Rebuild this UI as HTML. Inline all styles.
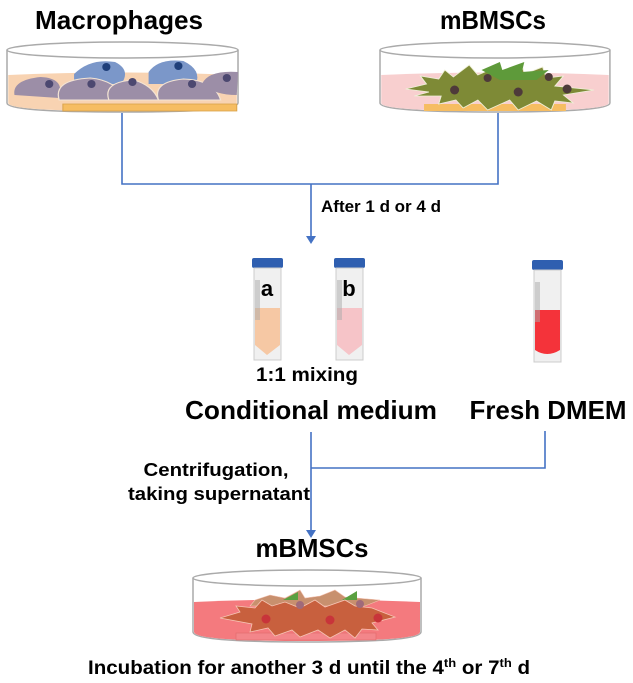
<!DOCTYPE html>
<html><head><meta charset="utf-8"><style>
html,body{margin:0;padding:0;background:#fff;}
svg{display:block;font-family:"Liberation Sans",Arial,sans-serif;font-weight:bold;}
</style></head><body>
<svg width="633" height="683" viewBox="0 0 633 683" xmlns="http://www.w3.org/2000/svg">
<!-- titles -->
<text x="119" y="29" font-size="26" text-anchor="middle" textLength="168" lengthAdjust="spacingAndGlyphs">Macrophages</text>
<text x="493" y="29" font-size="26" text-anchor="middle" textLength="106" lengthAdjust="spacingAndGlyphs">mBMSCs</text>

<!-- dish 1 -->
<g transform="translate(7,0) scale(1.242,1) translate(-8,0)">
<path d="M8,50 L8,103 Q8,112 100,112 Q194,112 194,103 L194,50" fill="#fff" stroke="#aaa" stroke-width="1.5" vector-effect="non-scaling-stroke"/>
<path d="M9,75 Q100,70 193,75 L193,103 Q193,111 100,111 Q9,111 9,103 Z" fill="#f8d3b2"/>
<path d="M62,74 Q75,58 95,62 Q108,70 100,84 L62,84 Z" fill="#7b97c9"/>
<path d="M122,72 Q130,58 150,61 Q165,70 160,84 L122,84 Z" fill="#7b97c9"/>
<path d="M14,95 Q12,80 35,77 Q55,78 50,98 Z" fill="#9c8ea7"/>
<path d="M50,100 Q45,80 75,78 Q95,80 105,100 Z" fill="#9c8ea7" stroke="#f3e4d4"/>
<path d="M90,100 Q85,82 110,80 Q125,85 130,100 Z" fill="#9c8ea7" stroke="#f3e4d4"/>
<path d="M130,100 Q125,82 150,79 Q175,80 180,100 Z" fill="#9c8ea7" stroke="#f3e4d4"/>
<path d="M165,84 Q170,70 194,72 L193,95 Q175,95 165,84 Z" fill="#9c8ea7"/>
<g fill="#4c4870"><ellipse cx="42" cy="84" rx="3.3" ry="4"/><ellipse cx="76" cy="84" rx="3.3" ry="4"/><ellipse cx="109" cy="82" rx="3.3" ry="4"/><ellipse cx="157" cy="84" rx="3.3" ry="4"/><ellipse cx="185" cy="78" rx="3.3" ry="4"/></g>
<g fill="#1f3f7a"><ellipse cx="88" cy="67" rx="3.3" ry="4"/><ellipse cx="146" cy="66" rx="3.3" ry="4"/></g>
<rect x="53" y="104" width="140" height="7" fill="#f6bd62" stroke="#d9a24a" stroke-width="0.8"/>
<ellipse cx="101" cy="50" rx="93" ry="8" fill="#fff" stroke="#aaa" stroke-width="1.5" fill-opacity="0.4" vector-effect="non-scaling-stroke"/>
</g>

<!-- dish 2 -->
<g transform="translate(380,0) scale(1.223,1) translate(-312,0)">
<path d="M312,50 L312,103 Q312,112 406,112 Q500,112 500,103 L500,50" fill="#fff" stroke="#aaa" stroke-width="1.5" vector-effect="non-scaling-stroke"/>
<path d="M313,75 Q406,70 499,75 L499,103 Q499,111 406,111 Q313,111 313,103 Z" fill="#f8cfcf"/>
<rect x="348" y="104" width="116" height="7" fill="#f6bd62"/>
<path d="M333,89 L350,84 L345,76 L360,79 L365,70 L372,77 L385,65 L392,75 L405,68 L412,74 L428,64 L430,74 L445,67 L448,78 L462,76 L455,86 L487,90 L462,95 L470,103 L455,101 L452,110 L440,101 L425,110 L418,100 L400,110 L392,100 L380,108 L374,100 L360,104 L362,96 L340,96 L352,92 Z" fill="#7e8a36" stroke="#eef0d8" stroke-width="0.8"/>
<path d="M395,70 L410,62 L412,70 L430,62 L428,72 L450,70 L440,80 L410,80 Z" fill="#5e9a3a"/>
<g fill="#4e3a3a"><ellipse cx="373" cy="90" rx="3.7" ry="4.5"/><ellipse cx="425" cy="92" rx="3.7" ry="4.5"/><ellipse cx="465" cy="89" rx="3.7" ry="4.5"/><ellipse cx="400" cy="78" rx="3.3" ry="4"/><ellipse cx="450" cy="77" rx="3.3" ry="4"/></g>
<ellipse cx="406" cy="50" rx="94" ry="8" fill="#fff" stroke="#aaa" stroke-width="1.5" fill-opacity="0.4" vector-effect="non-scaling-stroke"/>
</g>

<!-- connectors -->
<g stroke="#4472C4" stroke-width="1.6" fill="none">
<path d="M122,113 L122,184 L498,184 L498,113"/>
<line x1="311" y1="184" x2="311" y2="239"/>
<line x1="311" y1="432" x2="311" y2="532"/>
<path d="M311,468 L545,468 L545,431"/>
</g>
<path d="M306,236 L316,236 L311,244 Z" fill="#4472C4"/>
<path d="M306,530 L316,530 L311,538 Z" fill="#4472C4"/>
<text x="321" y="212" font-size="17">After 1 d or 4 d</text>

<!-- tubes -->
<g>
<rect x="252" y="258" width="31" height="10" rx="2" fill="#2f5fb0"/>
<rect x="254" y="268" width="27" height="92" fill="#f0f0f0" stroke="#ccc"/>
<path d="M255,308 L280,308 L280,345 L267,355 L255,345 Z" fill="#f6c8a4"/>
<rect x="255" y="280" width="5" height="40" fill="#aaa" opacity="0.5"/>
<text x="267" y="296" font-size="22" text-anchor="middle">a</text>

<rect x="334" y="258" width="31" height="10" rx="2" fill="#2f5fb0"/>
<rect x="336" y="268" width="27" height="92" fill="#f0f0f0" stroke="#ccc"/>
<path d="M337,308 L362,308 L362,345 L349,355 L337,345 Z" fill="#f6c4c8"/>
<rect x="337" y="280" width="5" height="40" fill="#aaa" opacity="0.5"/>
<text x="349" y="296" font-size="22" text-anchor="middle">b</text>

<rect x="532" y="260" width="31" height="10" rx="2" fill="#2f5fb0"/>
<rect x="534" y="270" width="27" height="92" fill="#f0f0f0" stroke="#ccc"/>
<path d="M535,310 L560,310 L560,350 Q547,358 535,350 Z" fill="#f4333a"/>
<rect x="535" y="282" width="5" height="40" fill="#aaa" opacity="0.5"/>
</g>

<text x="307" y="381" font-size="19" text-anchor="middle" textLength="102" lengthAdjust="spacingAndGlyphs">1:1 mixing</text>
<text x="311" y="419" font-size="26" text-anchor="middle" textLength="252" lengthAdjust="spacingAndGlyphs">Conditional medium</text>
<text x="548" y="419" font-size="26" text-anchor="middle" textLength="157" lengthAdjust="spacingAndGlyphs">Fresh DMEM</text>
<text x="216" y="476" font-size="18" text-anchor="middle" textLength="145" lengthAdjust="spacingAndGlyphs">Centrifugation,</text>
<text x="219" y="500" font-size="18" text-anchor="middle" textLength="182" lengthAdjust="spacingAndGlyphs">taking supernatant</text>

<text x="312" y="557" font-size="26" text-anchor="middle" textLength="113" lengthAdjust="spacingAndGlyphs">mBMSCs</text>

<!-- dish 3 -->
<path d="M193,578 L193,632 Q193,642 307,642 Q421,642 421,632 L421,578" fill="#fff" stroke="#aaa" stroke-width="1.5"/>
<path d="M194,602 Q307,597 420,602 L420,632 Q420,641 307,641 Q194,641 194,632 Z" fill="#f47a7e"/>
<rect x="236" y="633" width="140" height="7" fill="#f3868a" stroke="#e06a6a" stroke-width="0.6"/>
<path d="M255,600 L270,595 L285,598 L300,590 L305,598 L320,596 L335,590 L345,597 L380,600 L365,606 L250,606 Z" fill="#c8906e" stroke="#f6c4b4" stroke-width="0.6"/>
<path d="M283,600 L298,592 L298,600 Z M342,600 L357,591 L357,600 Z" fill="#5aa040"/>
<path d="M220,618 L240,612 L236,606 L255,608 L262,600 L272,606 L285,602 L300,608 L315,600 L325,607 L345,600 L355,606 L372,608 L395,617 L372,623 L378,630 L362,629 L355,638 L345,630 L330,638 L318,630 L300,637 L292,630 L275,636 L268,628 L250,632 L252,624 Z" fill="#c8603e" stroke="#f6c4b4" stroke-width="0.8"/>
<g fill="#c8343a"><circle cx="266" cy="619" r="4.5"/><circle cx="330" cy="620" r="4.5"/><circle cx="378" cy="618" r="4.5"/></g>
<g fill="#a06a7a"><circle cx="300" cy="605" r="4"/><circle cx="360" cy="604" r="4"/></g>
<ellipse cx="307" cy="578" rx="114" ry="8" fill="#fff" stroke="#aaa" stroke-width="1.5" fill-opacity="0.4"/>

<text x="309" y="674" font-size="19" text-anchor="middle" textLength="442" lengthAdjust="spacingAndGlyphs">Incubation for another 3 d until the 4<tspan font-size="12" dy="-7">th</tspan><tspan dy="7"> or 7</tspan><tspan font-size="12" dy="-7">th</tspan><tspan dy="7"> d</tspan></text>
</svg>
</body></html>
